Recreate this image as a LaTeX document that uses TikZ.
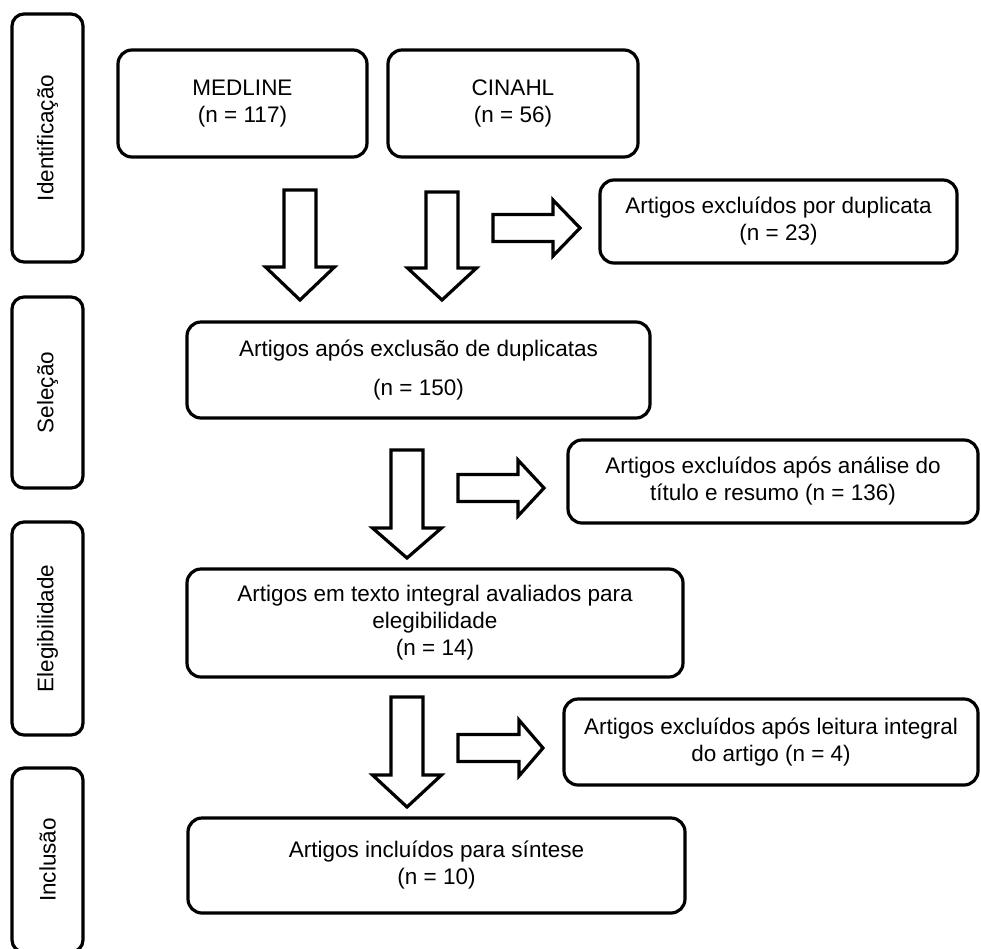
\documentclass[tikz,border=0pt]{standalone}
\usepackage{fontspec}
\setmainfont{Liberation Sans}
\tikzset{
  box/.style={draw, line width=3.2pt, rounded corners=14pt, align=center, inner sep=0pt,
    font=\fontsize{22.5}{27}\selectfont},
  side/.style={draw, line width=3.2pt, rounded corners=12pt, inner sep=0pt},
  sidetext/.style={rotate=90, inner sep=0pt, font=\fontsize{22.5}{27}\selectfont},
  blk/.style={draw, line width=3.2pt, fill=white, line join=miter}
}
% vertical block arrow: centre x, top y, head y, tip y
\newcommand\VArr[4]{\draw[blk] (#1-16,#2) -- (#1+16,#2) -- (#1+16,#3) -- (#1+34.5,#3) -- (#1,#4) -- (#1-34.5,#3) -- (#1-16,#3) -- cycle;}
% horizontal block arrow: centre y, left x, head x, tip x
\newcommand\HArr[4]{\draw[blk] (#2,#1-13.5) -- (#3,#1-13.5) -- (#3,#1-28) -- (#4,#1) -- (#3,#1+28) -- (#3,#1+13.5) -- (#2,#1+13.5) -- cycle;}
\begin{document}
\begin{tikzpicture}[x=1pt,y=-1pt]
\useasboundingbox (0,0) rectangle (981,948);

% phase column
\node[side, minimum width=71pt, minimum height=248pt] (id) at (47.5,138) {};
\node[sidetext] (idt) at (id.center) {Identificação};
\node[side, minimum width=71pt, minimum height=191pt] (sel) at (47.5,392.5) {};
\node[sidetext] (selt) at (sel.center) {Seleção};
\node[side, minimum width=71pt, minimum height=213pt] (ele) at (47.5,628.5) {};
\node[sidetext] (elet) at (ele.center) {Elegibilidade};
\node[side, minimum width=71pt, minimum height=184pt] (inc) at (47.5,860) {};
\node[sidetext] (inct) at (inc.center) {Inclusão};

% main boxes
\node[box, minimum width=249pt, minimum height=107pt] (med) at (242.5,103.5) {MEDLINE\\(n = 117)};
\node[box, minimum width=250pt, minimum height=107pt] (cin) at (513,103.5) {CINAHL\\(n = 56)};
\node[box, minimum width=357pt, minimum height=83pt] (dup) at (778.5,221.5) {Artigos excluídos por duplicata\\(n = 23)};
\node[box, minimum width=463pt, minimum height=96pt] (aft) at (418.5,370) {Artigos após exclusão de duplicatas\\[12pt](n = 150)};
\node[box, minimum width=410pt, minimum height=83pt] (ex1) at (773,481.5) {Artigos excluídos após análise do\\título e resumo (n = 136)};
\node[box, minimum width=496pt, minimum height=108pt] (ful) at (435,623) {Artigos em texto integral avaliados para\\elegibilidade\\(n = 14)};
\node[box, minimum width=414pt, minimum height=86pt] (ex2) at (771,742) {Artigos excluídos após leitura integral\\do artigo (n = 4)};
\node[box, minimum width=497pt, minimum height=95pt] (fin) at (436.5,865.5) {Artigos incluídos para síntese\\(n = 10)};

% block arrows
\VArr{300}{190}{267}{300}
\VArr{442}{192}{268}{300}
\HArr{228}{493}{553}{580}
\VArr{407}{450}{528}{558}
\HArr{488}{458}{518}{544}
\VArr{407}{697}{775}{807}
\HArr{748}{458}{519}{543}
\end{tikzpicture}
\end{document}
